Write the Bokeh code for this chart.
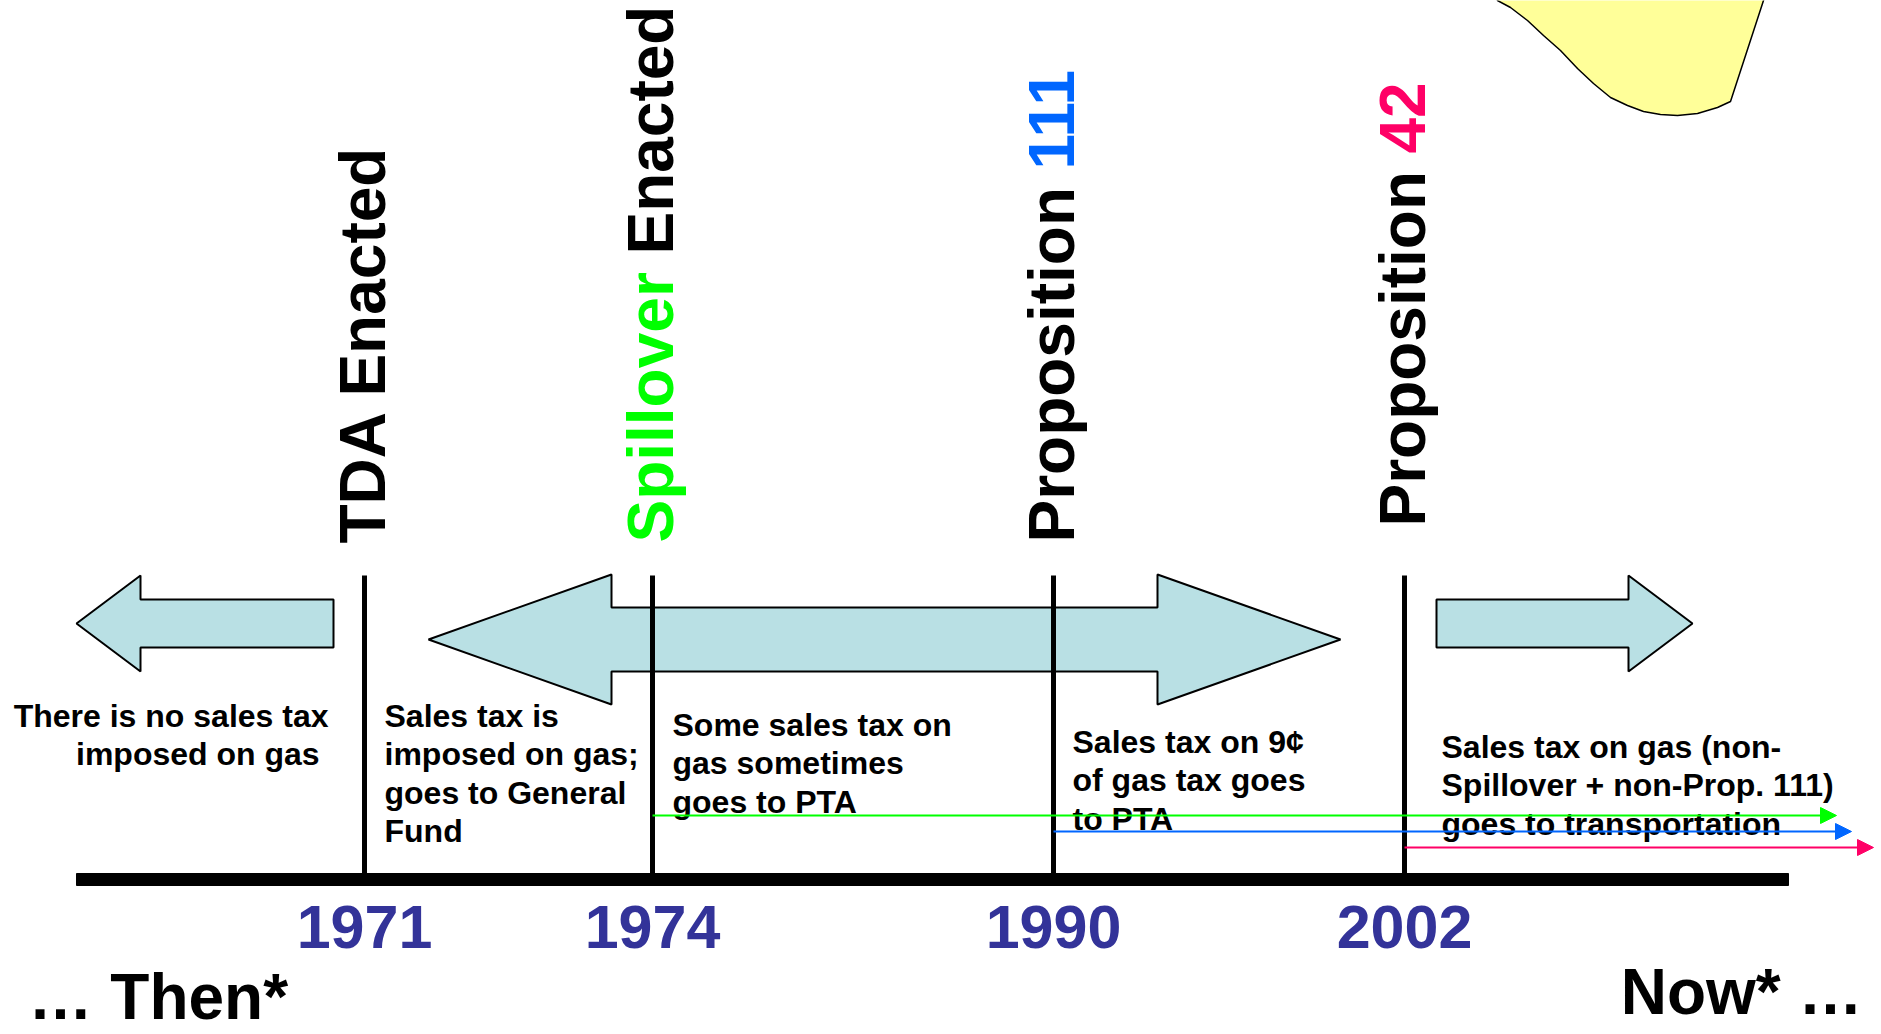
import math
from bokeh.plotting import figure
from bokeh.models import Range1d, Arrow, NormalHead
from bokeh.core.properties import value
from bokeh.embed import file_html
from bokeh.resources import INLINE

# ---------------- data ----------------
years = ["1971", "1974", "1990", "2002"]
event_parts = [
    [("TDA Enacted", "#000000")],
    [("Spillover", "#00FF00"), ("Enacted", "#000000")],
    [("Proposition", "#000000"), ("111", "#0066FF")],
    [("Proposition", "#000000"), ("42", "#FF0066")],
]
periods = [
    ["There is no sales tax", "imposed on  gas"],
    ["Sales tax is", "imposed on gas;", "goes to General", "Fund"],
    ["Some sales tax on", "gas sometimes", "goes to PTA"],
    ["Sales tax on 9¢", "of gas tax goes", "to PTA"],
    ["Sales tax on gas (non-", "Spillover + non-Prop. 111)", "goes to transportation"],
]
flow_labels = ["Spillover", "Prop. 111", "Prop. 42"]
flow_colors = ["#00FF00", "#0066FF", "#FF0066"]
start_text = "… Then*"
end_text = "Now* …"

# ---------------- layout (page pixel coordinates) ----------------
W, H = 1881, 1034
event_x = [364, 652, 1053, 1404]
part_starts = [[543], [542, 254], [542, 169], [526, 153]]
flow_start_event = [1, 2, 3]
flow_y = [815, 831, 847]
flow_end = [1836, 1851, 1873]
period_x = [328, 384, 672, 1072, 1441]
period_align = ["right", "left", "left", "left", "left"]
period_first_baseline = [728, 728, 737, 754, 759]
line_step = 38.4
BASE_FIX = 0.4  # renderer places the alphabetic baseline ~0.4em lower than asked

FONT = value("Liberation Sans")

p = figure(width=W, height=H, x_range=Range1d(0, W), y_range=Range1d(H, 0),
           min_border=0, toolbar_location=None, output_backend="svg",
           x_axis_type=None, y_axis_type=None)
p.grid.visible = False
p.outline_line_color = None
p.background_fill_color = "white"

# yellow blob top-right
blob_x = [1497, 1510, 1527, 1543, 1560, 1577, 1593, 1610, 1627, 1643, 1660, 1677, 1697, 1717, 1730, 1763, 1767, 1493]
blob_y = [0, 7, 20, 35, 50, 68, 83, 97, 105, 111, 114, 115, 113, 107, 101, 0, -12, -12]
p.patch(blob_x, blob_y, fill_color="#FFFF99", line_color="black", line_width=1.5)

# light blue block arrows
def arrow_poly(x0, x1, yc, shaft, head, head_len, left, right):
    xs, ys = [], []
    if left:
        xs += [x0, x0 + head_len, x0 + head_len]
        ys += [yc, yc - head, yc - shaft]
    else:
        xs += [x0]
        ys += [yc - shaft]
    if right:
        xs += [x1 - head_len, x1 - head_len, x1, x1 - head_len, x1 - head_len]
        ys += [yc - shaft, yc - head, yc, yc + head, yc + shaft]
    else:
        xs += [x1, x1]
        ys += [yc - shaft, yc + shaft]
    if left:
        xs += [x0 + head_len, x0 + head_len]
        ys += [yc + shaft, yc + head]
    else:
        xs += [x0]
        ys += [yc + shaft]
    return xs, ys

shapes = [
    arrow_poly(76, 333, 623, 24, 48, 64, True, False),
    arrow_poly(428, 1340, 639, 32, 65, 183, True, True),
    arrow_poly(1436, 1692, 623, 24, 48, 64, False, True),
]
p.patches([s[0] for s in shapes], [s[1] for s in shapes],
          fill_color="#B9E0E4", line_color="black", line_width=2)

# timeline bar
p.quad(left=[76], right=[1788], top=[873], bottom=[885], color="black")

# event lines
p.segment(x0=event_x, y0=[575] * 4, x1=event_x, y1=[875] * 4, line_color="black", line_width=5)

# colored flow arrows
for i, c in enumerate(flow_colors):
    x0 = event_x[flow_start_event[i]]
    p.add_layout(Arrow(end=NormalHead(size=16, fill_color=c, line_color=c, line_width=1),
                       x_start=x0, y_start=flow_y[i], x_end=flow_end[i], y_end=flow_y[i],
                       line_color=c, line_width=2))

# period descriptions
fs = 32
for k, lines in enumerate(periods):
    ys = [period_first_baseline[k] + j * line_step - BASE_FIX * fs for j in range(len(lines))]
    p.text(x=[period_x[k]] * len(lines), y=ys, text=lines, text_font=FONT,
           text_font_style="bold", text_font_size=f"{fs}px", text_color="black",
           text_align=period_align[k], text_baseline="alphabetic")

# vertical event labels
fs = 64
for i, parts in enumerate(event_parts):
    for (txt, col), y0 in zip(parts, part_starts[i]):
        p.text(x=[event_x[i] + 24 - BASE_FIX * fs], y=[y0], text=[txt], angle=math.pi / 2,
               text_font=FONT, text_font_style="bold", text_font_size=f"{fs}px",
               text_color=col, text_align="left", text_baseline="alphabetic")

# years
fs = 61
p.text(x=event_x, y=[951 - BASE_FIX * fs] * 4, text=years, text_font=FONT, text_font_style="bold",
       text_font_size=f"{fs}px", text_color="#333399", text_align="center",
       text_baseline="alphabetic")

# then / now
fs = 64
p.text(x=[28], y=[1022 - BASE_FIX * fs], text=[start_text], text_font=FONT, text_font_style="bold",
       text_font_size=f"{fs}px", text_color="black", text_align="left", text_baseline="alphabetic")
p.text(x=[1862], y=[1017 - BASE_FIX * fs], text=[end_text], text_font=FONT, text_font_style="bold",
       text_font_size=f"{fs}px", text_color="black", text_align="right", text_baseline="alphabetic")

open("out.html", "w").write(file_html(p, INLINE))
